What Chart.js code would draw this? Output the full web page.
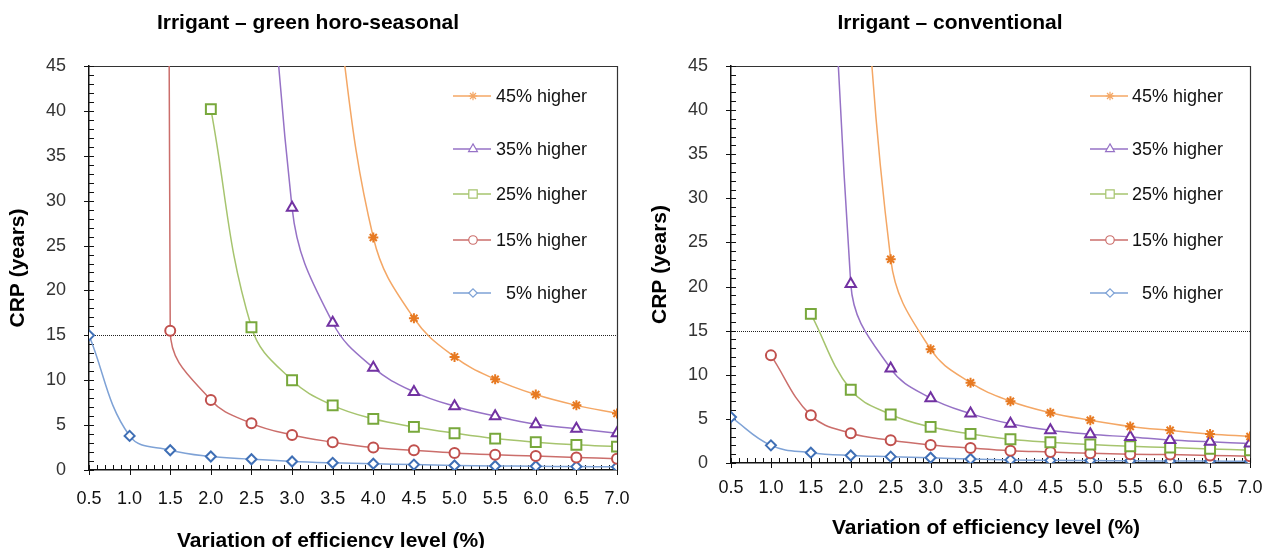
<!DOCTYPE html>
<html>
<head>
<meta charset="utf-8">
<script src="https://cdn.jsdelivr.net/npm/chart.js@4.4.1/dist/chart.umd.min.js"></script>
<style>
  body { margin: 0; background: #fff; }
  .wrap { position: absolute; top: 0; height: 548px; }
  #left { left: 0; width: 640px; }
  #right { left: 640px; width: 629px; }
</style>
</head>
<body>
<div class="wrap" id="left"><canvas id="leftChart" width="640" height="548"></canvas></div>
<div class="wrap" id="right"><canvas id="rightChart" width="629" height="548"></canvas></div>
<script>
// x categories: variation of efficiency level (%)
const xValues = [0.5, 1.0, 1.5, 2.0, 2.5, 3.0, 3.5, 4.0, 4.5, 5.0, 5.5, 6.0, 6.5, 7.0];
const seriesLabels = ['45% higher', '35% higher', '25% higher', '15% higher', '5% higher'];
const yTicks = [0, 5, 10, 15, 20, 25, 30, 35, 40, 45];
const thresholdYears = 15;

// Irrigant - green horo-seasonal (values above 45 run off the top of the plot)
const greenHigher45 = [null, null, null, null, null, null, 55, 25.9, 16.9, 12.6, 10.1, 8.4, 7.2, 6.3];
const greenHigher35 = [null, null, null, null, 100, 29.2, 16.4, 11.4, 8.7, 7.1, 6.0, 5.1, 4.6, 4.1];
const greenHigher25 = [null, null, null, 40.2, 15.9, 10.0, 7.2, 5.7, 4.8, 4.1, 3.5, 3.1, 2.8, 2.6];
const greenHigher15 = [null, 1500, 15.5, 7.8, 5.2, 3.9, 3.1, 2.5, 2.2, 1.9, 1.7, 1.55, 1.4, 1.25];
const greenHigher5 = [15.0, 3.8, 2.2, 1.5, 1.2, 0.95, 0.8, 0.7, 0.6, 0.5, 0.45, 0.42, 0.38, 0.35];

// Irrigant - conventional
const convHigher45 = [null, null, null, 87, 23.1, 12.9, 9.1, 7.0, 5.7, 4.85, 4.15, 3.7, 3.3, 3.0];
const convHigher35 = [null, null, 150, 20.3, 10.7, 7.35, 5.6, 4.45, 3.7, 3.25, 2.95, 2.6, 2.4, 2.2];
const convHigher25 = [null, null, 16.9, 8.3, 5.5, 4.1, 3.3, 2.7, 2.35, 2.1, 1.9, 1.75, 1.6, 1.45];
const convHigher15 = [null, 12.2, 5.4, 3.37, 2.58, 2.05, 1.7, 1.4, 1.25, 1.1, 1.0, 0.95, 0.85, 0.77];
const convHigher5 = [5.2, 2.0, 1.17, 0.85, 0.72, 0.6, 0.45, 0.35, 0.3, 0.28, 0.25, 0.23, 0.22, 0.2];

const FONT = "'Liberation Sans', Arial, sans-serif";
Chart.defaults.font.family = FONT;

// line colour, marker colour, marker shape per series
const styles = [
  { line: '#F4A765', mark: '#E77A22', shape: 'star', r: 5 },
  { line: '#9672C6', mark: '#7232A2', shape: 'triangle', r: 6 },
  { line: '#A6C46E', mark: '#78A83C', shape: 'rect', r: 7 },
  { line: '#CB6E6B', mark: '#C0504D', shape: 'circle', r: 5 },
  { line: '#7EA2D6', mark: '#3F6FB5', shape: 'rectRot', r: 5 }
];

function makeDatasets(seriesList) {
  return seriesList.map((vals, i) => ({
    label: seriesLabels[i],
    data: xValues.map((x, j) => ({ x: x, y: vals[j] })),
    borderColor: styles[i].line,
    borderWidth: 1.5,
    pointStyle: styles[i].shape,
    pointRadius: styles[i].r,
    pointBorderWidth: 2,
    pointBorderColor: styles[i].mark,
    pointBackgroundColor: '#fff',
    tension: 0.4,
    capBezierPoints: false,
    fill: false
  }));
}

function decorations(lay) {
  return {
    id: 'decor',
    beforeDatasetsDraw(chart) {
      const ctx = chart.ctx, a = chart.chartArea;
      const xs = chart.scales.x, ys = chart.scales.y;
      ctx.save();
      // plot frame top + right
      ctx.strokeStyle = '#333';
      ctx.lineWidth = 1.2;
      ctx.beginPath();
      ctx.moveTo(a.left, a.top + 0.5);
      ctx.lineTo(a.right + 0.5, a.top + 0.5);
      ctx.lineTo(a.right + 0.5, a.bottom);
      ctx.stroke();
      // reference line
      const py = Math.round(ys.getPixelForValue(thresholdYears)) + 0.5;
      ctx.strokeStyle = '#222';
      ctx.lineWidth = 1;
      ctx.setLineDash([1, 1]);
      ctx.beginPath();
      ctx.moveTo(a.left, py);
      ctx.lineTo(a.right, py);
      ctx.stroke();
      ctx.setLineDash([]);
      // tick marks: minor inside, major crossing
      ctx.strokeStyle = '#111';
      ctx.lineWidth = 1;
      ctx.beginPath();
      for (let i = 0; i <= 65; i++) {
        const v = xValues[0] + i * 0.1;
        const px = Math.round(xs.getPixelForValue(v)) + 0.5;
        ctx.moveTo(px, a.bottom - 5);
        ctx.lineTo(px, i % 5 === 0 ? a.bottom + 5 : a.bottom);
      }
      for (let v = 0; v <= 45; v++) {
        const p = Math.round(ys.getPixelForValue(v)) + 0.5;
        ctx.moveTo(v % 5 === 0 ? a.left - 5 : a.left, p);
        ctx.lineTo(a.left + 5, p);
      }
      ctx.stroke();
      ctx.restore();
    },
    afterDraw(chart) {
      const ctx = chart.ctx, a = chart.chartArea;
      ctx.save();
      ctx.fillStyle = '#000';
      ctx.textBaseline = 'middle';
      ctx.textAlign = 'center';
      ctx.font = 'bold 21px ' + FONT;
      ctx.fillText(lay.title, lay.titleX, 23);
      ctx.fillText('Variation of efficiency level (%)', lay.xTitleX, lay.xTitleY);
      ctx.save();
      ctx.translate(lay.yTitleX, (a.top + a.bottom) / 2);
      ctx.rotate(-Math.PI / 2);
      ctx.fillText('CRP (years)', 0, 0);
      ctx.restore();
      // legend
      ctx.font = '18px ' + FONT;
      ctx.textAlign = 'right';
      const legendY = [96, 149, 194, 240, 293];
      chart.data.datasets.forEach((ds, i) => {
        const y = legendY[i];
        ctx.strokeStyle = ds.borderColor;
        ctx.lineWidth = 1.5;
        ctx.beginPath();
        ctx.moveTo(lay.legX, y);
        ctx.lineTo(lay.legX + 38, y);
        ctx.stroke();
        if (Chart.helpers && Chart.helpers.drawPoint) {
          ctx.fillStyle = '#fff';
          ctx.lineWidth = 1.2;
          ctx.strokeStyle = ds.borderColor;
          Chart.helpers.drawPoint(ctx, { pointStyle: ds.pointStyle, radius: ds.pointRadius * 0.85, rotation: 0, borderWidth: 1.2 }, lay.legX + 20, y);
        }
        ctx.fillStyle = '#111';
        ctx.fillText(ds.label, lay.legTextRight, y + 1);
      });
      ctx.restore();
    }
  };
}

function makeChart(id, seriesList, lay) {
  const W = lay.width, H = 548;
  return new Chart(document.getElementById(id), {
    type: 'line',
    data: { datasets: makeDatasets(seriesList) },
    options: {
      responsive: false,
      animation: false,
      layout: { padding: { left: 0, top: lay.top, right: W - lay.right, bottom: 0 } },
      plugins: { legend: { display: false }, tooltip: { enabled: false }, title: { display: false } },
      scales: {
        x: {
          type: 'linear', min: xValues[0], max: xValues[xValues.length - 1],
          afterFit(s) { s.height = H - lay.bottom; },
          grid: { display: false },
          border: { display: true, color: '#111', width: 1.5 },
          ticks: {
            stepSize: 0.5, autoSkip: false, maxRotation: 0, padding: lay.xTickPad,
            color: '#111', font: { size: 18 },
            callback: v => Number(v).toFixed(1)
          }
        },
        y: {
          min: 0, max: 45,
          afterFit(s) { s.width = lay.left; },
          afterBuildTicks(s) { s.ticks = yTicks.map(v => ({ value: v })); },
          grid: { display: false },
          border: { display: true, color: '#111', width: 1.5 },
          ticks: { padding: 15, color: '#333', font: { size: 18 } }
        }
      }
    },
    plugins: [decorations(lay)]
  });
}

makeChart('leftChart',
  [greenHigher45, greenHigher35, greenHigher25, greenHigher15, greenHigher5],
  { width: 640, left: 89, right: 617, top: 66, bottom: 470, xTickPad: 10,
    title: 'Irrigant \u2013 green horo-seasonal', titleX: 308,
    xTitleX: 331, xTitleY: 541, yTitleX: 18, legX: 453, legTextRight: 587 });

makeChart('rightChart',
  [convHigher45, convHigher35, convHigher25, convHigher15, convHigher5],
  { width: 629, left: 91, right: 610, top: 66, bottom: 463, xTickPad: 6,
    title: 'Irrigant \u2013 conventional', titleX: 310,
    xTitleX: 346, xTitleY: 528, yTitleX: 20, legX: 450, legTextRight: 583 });
</script>
</body>
</html>
